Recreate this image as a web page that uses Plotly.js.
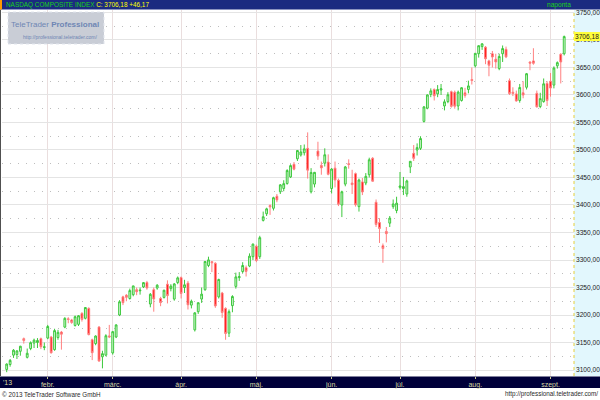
<!DOCTYPE html>
<html><head><meta charset="utf-8">
<script src="https://cdn.plot.ly/plotly-3.0.1.min.js"></script>
<style>html,body{margin:0;padding:0;background:#fff}#chart{width:600px;height:400px}</style>
</head><body><div id="chart"></div>
<script>
const dates = [
'2013-01-15','2013-01-16','2013-01-17','2013-01-18','2013-01-22','2013-01-23','2013-01-24','2013-01-25','2013-01-28','2013-01-29','2013-01-30','2013-01-31',
'2013-02-01','2013-02-04','2013-02-05','2013-02-06','2013-02-07','2013-02-08','2013-02-11','2013-02-12','2013-02-13','2013-02-14','2013-02-15','2013-02-19','2013-02-20','2013-02-21','2013-02-22','2013-02-25','2013-02-26','2013-02-27','2013-02-28',
'2013-03-01','2013-03-04','2013-03-05','2013-03-06','2013-03-07','2013-03-08','2013-03-11','2013-03-12','2013-03-13','2013-03-14','2013-03-15','2013-03-18','2013-03-19','2013-03-20','2013-03-21','2013-03-22','2013-03-25','2013-03-26','2013-03-27','2013-03-28',
'2013-04-01','2013-04-02','2013-04-03','2013-04-04','2013-04-05','2013-04-08','2013-04-09','2013-04-10','2013-04-11','2013-04-12','2013-04-15','2013-04-16','2013-04-17','2013-04-18','2013-04-19','2013-04-22','2013-04-23','2013-04-24','2013-04-25','2013-04-26','2013-04-29','2013-04-30',
'2013-05-01','2013-05-02','2013-05-03','2013-05-06','2013-05-07','2013-05-08','2013-05-09','2013-05-10','2013-05-13','2013-05-14','2013-05-15','2013-05-16','2013-05-17','2013-05-20','2013-05-21','2013-05-22','2013-05-23','2013-05-24','2013-05-28','2013-05-29','2013-05-30','2013-05-31',
'2013-06-03','2013-06-04','2013-06-05','2013-06-06','2013-06-07','2013-06-10','2013-06-11','2013-06-12','2013-06-13','2013-06-14','2013-06-17','2013-06-18','2013-06-19','2013-06-20','2013-06-21','2013-06-24','2013-06-25','2013-06-26','2013-06-27','2013-06-28',
'2013-07-01','2013-07-02','2013-07-03','2013-07-05','2013-07-08','2013-07-09','2013-07-10','2013-07-11','2013-07-12','2013-07-15','2013-07-16','2013-07-17','2013-07-18','2013-07-19','2013-07-22','2013-07-23','2013-07-24','2013-07-25','2013-07-26','2013-07-29','2013-07-30','2013-07-31',
'2013-08-01','2013-08-02','2013-08-05','2013-08-06','2013-08-07','2013-08-08','2013-08-09','2013-08-12','2013-08-13','2013-08-14','2013-08-15','2013-08-16','2013-08-19','2013-08-20','2013-08-21','2013-08-22','2013-08-23','2013-08-26','2013-08-27','2013-08-28','2013-08-29','2013-08-30',
'2013-09-03','2013-09-04','2013-09-05','2013-09-06','2013-09-09'];

const openV = [
3101,3110,3127,3128,3134,3157,3123,3139,3149,3150,3157,3141,
3158,3160,3137,3159,3169,3178,3193,3191,3181,3183,3203,3194,3212,3155,3148,3178,3124,3127,3162,
3131,3160,3200,3233,3236,3230,3237,3246,3244,3251,3259,3220,3246,3249,3230,3232,3256,3248,3229,3259,
3268,3250,3258,3218,3173,3206,3229,3246,3290,3297,3294,3233,3240,3212,3167,3217,3252,3268,3279,3286,3289,3306,
3325,3306,3372,3384,3399,3394,3416,3424,3430,3439,3451,3474,3484,3491,3495,3503,3424,3438,3498,3472,3476,3478,
3430,3467,3445,3400,3438,3475,3440,3457,3397,3442,3440,3455,3485,3405,3368,3326,3352,3367,3397,3390,
3432,3430,3420,3469,3494,3500,3503,3552,3576,3601,3610,3602,3609,3580,3588,3606,3605,3580,3590,3604,3610,3628,
3653,3675,3688,3687,3662,3675,3665,3648,3675,3683,3626,3605,3602,3590,3604,3614,3660,3662,3603,3579,3588,3621,
3625,3618,3653,3674,3675];

const highV = [
3112,3120,3138,3136,3144,3159,3139,3152,3157,3158,3159,3150,
3182,3162,3175,3173,3171,3196,3196,3193,3199,3200,3205,3214,3214,3157,3163,3180,3135,3165,3182,
3171,3183,3227,3235,3238,3248,3253,3250,3250,3260,3262,3240,3250,3256,3233,3246,3263,3256,3258,3270,
3270,3264,3262,3228,3205,3223,3250,3298,3306,3298,3296,3266,3242,3214,3210,3236,3277,3278,3296,3290,3312,3330,
3328,3344,3388,3395,3401,3415,3420,3438,3445,3465,3474,3478,3500,3509,3510,3532,3467,3460,3515,3479,3503,3492,
3467,3479,3448,3426,3471,3483,3464,3459,3448,3449,3458,3486,3487,3410,3376,3330,3360,3380,3410,3415,
3460,3451,3446,3480,3509,3512,3525,3580,3601,3612,3612,3618,3620,3592,3605,3608,3608,3608,3614,3613,3626,3650,
3676,3690,3694,3689,3664,3680,3675,3675,3690,3688,3630,3614,3608,3620,3625,3640,3661,3685,3608,3604,3630,3625,
3640,3652,3661,3676,3708];

const lowV = [
3096,3106,3122,3120,3126,3148,3121,3136,3140,3140,3138,3136,
3156,3130,3135,3155,3137,3176,3185,3184,3179,3180,3188,3192,3163,3118,3145,3115,3103,3125,3158,
3128,3158,3198,3218,3225,3228,3234,3236,3237,3249,3246,3214,3206,3246,3216,3230,3221,3243,3226,3256,
3230,3240,3210,3212,3170,3202,3222,3244,3287,3278,3213,3230,3195,3155,3160,3205,3248,3262,3276,3270,3287,3300,
3296,3302,3370,3380,3382,3390,3405,3420,3425,3437,3449,3463,3480,3488,3490,3448,3421,3432,3482,3455,3470,3454,
3421,3432,3398,3378,3434,3466,3420,3397,3388,3418,3436,3450,3443,3360,3331,3295,3332,3360,3393,3385,
3428,3418,3415,3458,3480,3490,3500,3550,3574,3596,3590,3596,3600,3572,3585,3577,3575,3572,3588,3595,3603,3619,
3650,3668,3682,3656,3634,3650,3648,3645,3660,3667,3600,3598,3588,3586,3594,3610,3645,3655,3577,3576,3586,3580,
3597,3612,3648,3621,3672];

const closeV = [
3110.8,3117.5,3136.0,3134.7,3143.2,3153.7,3130.4,3149.7,3154.3,3153.7,3142.3,3142.1,
3179.1,3131.2,3171.6,3168.5,3165.1,3193.9,3192.0,3186.5,3196.9,3198.7,3192.0,3213.6,3164.4,3131.5,3161.8,3116.3,3129.7,3162.3,3160.2,
3169.7,3182.0,3224.1,3222.4,3232.1,3244.4,3252.9,3242.3,3245.1,3258.9,3249.1,3237.6,3229.1,3254.2,3222.6,3245.0,3235.3,3252.5,3256.5,3267.5,
3239.2,3254.9,3218.6,3225.0,3203.9,3222.3,3237.9,3297.3,3300.2,3295.0,3216.5,3264.6,3204.7,3166.4,3206.1,3233.6,3269.3,3269.7,3290.0,3279.3,3307.0,3328.8,
3299.1,3340.6,3378.6,3393.0,3396.6,3413.3,3409.2,3436.6,3438.8,3462.6,3471.6,3465.2,3499.0,3496.4,3502.1,3463.3,3459.1,3459.4,3488.9,3467.5,3491.3,3455.9,
3465.4,3445.3,3401.5,3424.1,3469.2,3473.8,3437.0,3400.4,3445.4,3423.6,3452.1,3482.2,3443.2,3364.6,3357.3,3320.8,3347.9,3376.2,3401.9,3403.3,
3434.5,3433.4,3443.7,3479.4,3484.8,3504.3,3520.8,3578.3,3600.1,3607.5,3598.5,3610.0,3611.3,3587.6,3600.4,3579.3,3579.6,3605.2,3613.2,3599.1,3616.5,3626.4,
3675.7,3689.6,3693.0,3665.8,3654.0,3669.1,3660.1,3670.0,3684.4,3669.3,3602.8,3602.8,3589.1,3613.6,3599.8,3638.7,3657.8,3657.6,3578.5,3593.4,3620.3,3589.9,
3612.6,3649.0,3658.8,3660.0,3706.18];

const monthTickDates = ['2013-02-01','2013-03-01','2013-04-01','2013-05-01','2013-06-03','2013-07-01','2013-08-01','2013-09-03'];
const monthLabels = ['febr.','márc.','ápr.','máj.','jún.','júl.','aug.','szept.'];
const priceTicks = [3100,3150,3200,3250,3300,3350,3400,3450,3500,3550,3600,3650,3700,3750];
const priceTickLabels = ['3100,00','3150,00','3200,00','3250,00','3300,00','3350,00','3400,00','3450,00','3500,00','3550,00','3600,00','3650,00','3700,00','3750,00'];
const titleName = 'NASDAQ COMPOSITE INDEX';
const lastCloseLabel = '3706,18';
const changeLabel = '+46,17';

const FN = 'Liberation Sans, Arial, sans-serif';
const PW = 572, PH = 366, ML = 2, MT = 10;
const px = v => (v - ML) / PW;       // page x pixel -> paper x
const py = v => 1 - (v - MT) / PH;   // page y pixel -> paper y

const trace = {
  type: 'candlestick', x: dates, open: openV, high: highV, low: lowV, close: closeV,
  increasing: {line: {color: '#3cc83c', width: 1}, fillcolor: '#d8f6d8'},
  decreasing: {line: {color: '#ff8080', width: 1}, fillcolor: '#ff0c0c'},
  whiskerwidth: 0, hoverinfo: 'skip', showlegend: false
};

const layout = {
  width: 600, height: 400,
  margin: {l: ML, r: 600 - ML - PW, t: MT, b: 400 - MT - PH, pad: 0},
  paper_bgcolor: '#ffffff', plot_bgcolor: '#ffffff',
  showlegend: false, boxgap: 0.25,
  font: {family: FN, size: 7, color: '#222'},
  xaxis: {
    type: 'category', categoryorder: 'array', categoryarray: dates,
    range: [-1.37, 165.87], rangeslider: {visible: false}, fixedrange: true,
    tickmode: 'array', tickvals: monthTickDates, ticktext: monthLabels,
    showgrid: true, gridcolor: '#eadede', gridwidth: 1,
    ticks: 'outside', ticklen: 2, tickcolor: '#c8c890', tickwidth: 1,
    tickfont: {family: FN, size: 7, color: '#d8d8a4'},
    showline: false, zeroline: false
  },
  yaxis: {
    side: 'right', range: [3089.1, 3754.5], fixedrange: true,
    tickmode: 'array', tickvals: priceTicks, ticktext: priceTickLabels,
    showgrid: true, gridcolor: '#e4e4e4', gridwidth: 1,
    minor: {dtick: 25, tick0: 3100, showgrid: true, gridcolor: '#bdbdbd', griddash: '1px,7px', gridwidth: 1, ticks: ''},
    ticks: '', ticklabelstandoff: 1,
    tickfont: {family: FN, size: 6.6, color: '#1a1a1a'},
    showline: false, zeroline: false
  },
  shapes: [
    {type: 'rect', xref: 'paper', yref: 'paper', x0: 1, x1: px(600), y0: py(376), y1: py(10), fillcolor: '#e2f7fd', line: {width: 0}, layer: 'below'},
    {type: 'line', xref: 'paper', yref: 'paper', x0: 1, x1: 1, y0: py(376), y1: py(10), line: {color: '#e6cf3c', width: 1, dash: 'dot'}},
    {type: 'rect', xref: 'paper', yref: 'paper', x0: px(0), x1: px(600), y0: py(9.5), y1: py(0), fillcolor: '#1b2b80', line: {width: 0}},
    {type: 'rect', xref: 'paper', yref: 'paper', x0: px(0), x1: px(2), y0: py(9.5), y1: py(0), fillcolor: '#ff9900', line: {width: 0}},
    {type: 'rect', xref: 'paper', yref: 'paper', x0: px(0), x1: px(600), y0: py(388), y1: py(376.5), fillcolor: '#00003a', line: {width: 0}, layer: 'below'},
    {type: 'line', xref: 'paper', yref: 'paper', x0: px(0.5), x1: px(0.5), y0: py(376), y1: py(10), line: {color: '#505050', width: 1}},
    {type: 'rect', xref: 'paper', yref: 'paper', x0: px(8), x1: px(104), y0: py(44), y1: py(12), fillcolor: '#c9cdd6', line: {color: '#e2e6ee', width: 1, dash: 'dot'}, layer: 'above'},
    {type: 'rect', xref: 'paper', yref: 'paper', x0: px(574), x1: px(600), y0: py(41), y1: py(32), fillcolor: '#ffff3c', line: {width: 0}, layer: 'above'}
  ],
  annotations: [
    {xref: 'paper', yref: 'paper', x: px(4), y: py(4.8), xanchor: 'left', yanchor: 'middle', showarrow: false,
     text: '<span style="color:#19d219">' + titleName + '</span> <span style="color:#ffff00">C: ' + lastCloseLabel + ' ' + changeLabel + '</span>',
     font: {family: FN, size: 6.4}},
    {xref: 'paper', yref: 'paper', x: px(573), y: py(4.8), xanchor: 'right', yanchor: 'middle', showarrow: false,
     text: 'naponta', font: {family: FN, size: 6.6, color: '#19d219'}},
    {xref: 'paper', yref: 'paper', x: px(55), y: py(24.5), xanchor: 'center', yanchor: 'middle', showarrow: false,
     text: 'TeleTrader <b>Professional</b>', font: {family: FN, size: 8, color: '#6f86b4'}},
    {xref: 'paper', yref: 'paper', x: px(60), y: py(37), xanchor: 'center', yanchor: 'middle', showarrow: false,
     text: 'http://professional.teletrader.com/', font: {family: FN, size: 5, color: '#6f86b4'}},
    {xref: 'paper', yref: 'paper', x: px(587), y: py(36.5), xanchor: 'center', yanchor: 'middle', showarrow: false,
     text: lastCloseLabel, font: {family: FN, size: 6.6, color: '#1a1a1a'}},
    {xref: 'paper', yref: 'paper', x: px(1), y: py(383), xanchor: 'left', yanchor: 'middle', showarrow: false,
     text: "'13", font: {family: FN, size: 7, color: '#d8d8a4'}},
    {xref: 'paper', yref: 'paper', x: px(0), y: py(394.5), xanchor: 'left', yanchor: 'middle', showarrow: false,
     text: '© 2013 TeleTrader Software GmbH', font: {family: FN, size: 6.3, color: '#2a2a2a'}},
    {xref: 'paper', yref: 'paper', x: px(600), y: py(394.5), xanchor: 'right', yanchor: 'middle', showarrow: false,
     text: 'http://professional.teletrader.com/', font: {family: FN, size: 6.3, color: '#2a2a2a'}}
  ]
};

Plotly.newPlot('chart', [trace], layout, {displayModeBar: false, staticPlot: true});
</script></body></html>
